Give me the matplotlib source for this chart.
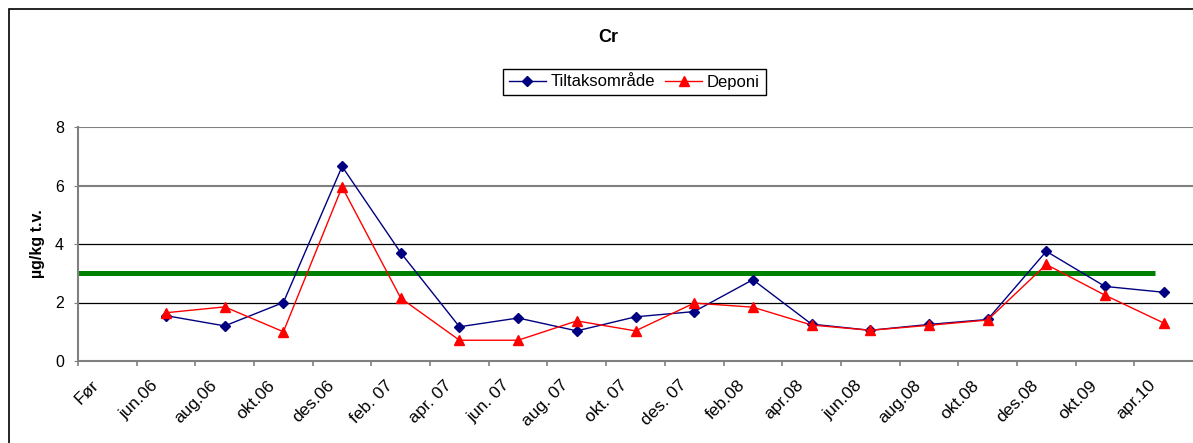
import numpy as np
import matplotlib
matplotlib.use("Agg")
import matplotlib.pyplot as plt
from matplotlib.patches import Rectangle

plt.rcParams['font.family'] = ['Liberation Sans', 'DejaVu Sans']

# Cr data, µg/kg t.v.
dates = ['Før', 'jun.06', 'aug.06', 'okt.06', 'des.06', 'feb. 07', 'apr. 07', 'jun. 07',
         'aug. 07', 'okt. 07', 'des. 07', 'feb.08', 'apr.08', 'jun.08', 'aug.08',
         'okt.08', 'des.08', 'okt.09', 'apr.10']
tiltak = [np.nan, 1.55, 1.2, 2.0, 6.65, 3.7, 1.17, 1.47, 1.03, 1.51, 1.69, 2.78,
          1.26, 1.05, 1.25, 1.42, 3.75, 2.55, 2.35]
deponi = [np.nan, 1.65, 1.85, 1.0, 5.95, 2.15, 0.71, 0.71, 1.37, 1.03, 1.98, 1.84,
          1.23, 1.05, 1.22, 1.4, 3.3, 2.25, 1.3]
limit = 3.0

W, H = 1193, 443
fig = plt.figure(figsize=(W / 100, H / 100), dpi=100)
ax = fig.add_axes([78 / W, 82 / H, (W - 78) / W, (361 - 127) / H])

x = np.arange(len(dates))
ax.hlines(limit, -0.5, 17.85, color='#008000', lw=3.6, zorder=2)
ax.plot(x, tiltak, color='#000080', lw=1.0, marker='D', ms=5, label='Tiltaksområde', zorder=3)
ax.plot(x, deponi, color='#ff0000', lw=1.0, marker='^', ms=7, label='Deponi', zorder=3)

ax.set_xlim(-0.5, len(dates) - 0.5)
ax.set_ylim(0, 8)
ax.set_yticks([0, 2, 4, 6, 8])
ax.tick_params(axis='y', labelsize=11.5, length=3, pad=7, color='#808080')

# tick marks between categories, labels shifted a bit
ax.set_xticks(x - 0.5)
ax.set_xticklabels([])
ax.tick_params(axis='x', which='major', length=3.5, color='#808080', width=1.2)
ax.set_xticks(x - 0.27, minor=True)
ax.set_xticklabels(dates, minor=True, rotation=45, ha='right', rotation_mode='anchor', fontsize=12.5)
ax.tick_params(axis='x', which='minor', length=0, pad=12)

for v in [2, 4, 6, 8]:
    if v >= 6:
        ax.axhline(v, color='#808080', lw=1.5, zorder=1)
    else:
        ax.axhline(v, color='black', lw=0.9, zorder=1)

for s in ['top', 'right']:
    ax.spines[s].set_visible(False)
for s in ['left', 'bottom']:
    ax.spines[s].set_color('#808080')
    ax.spines[s].set_linewidth(1.5)

ax.set_ylabel('µg/kg t.v.', fontsize=11.5, fontweight='bold', labelpad=7)

fig.text(608 / W, 1 - 37 / H, 'Cr', fontsize=13, fontweight='bold', ha='center', va='center')
leg = fig.legend(loc='center', bbox_to_anchor=(634.5 / W, 1 - 82 / H), ncol=2, fontsize=12,
                 fancybox=False, edgecolor='black', framealpha=1, handlelength=2.2,
                 handletextpad=0.3, columnspacing=0.6, borderpad=0.35)
leg.get_frame().set_linewidth(1.0)

fig.patches.append(Rectangle((9 / W, -0.1), 1.2, 1 - 9 / H + 0.1, fill=False,
                             edgecolor='black', lw=1.2, transform=fig.transFigure))

fig.savefig('out.png', dpi=100)
